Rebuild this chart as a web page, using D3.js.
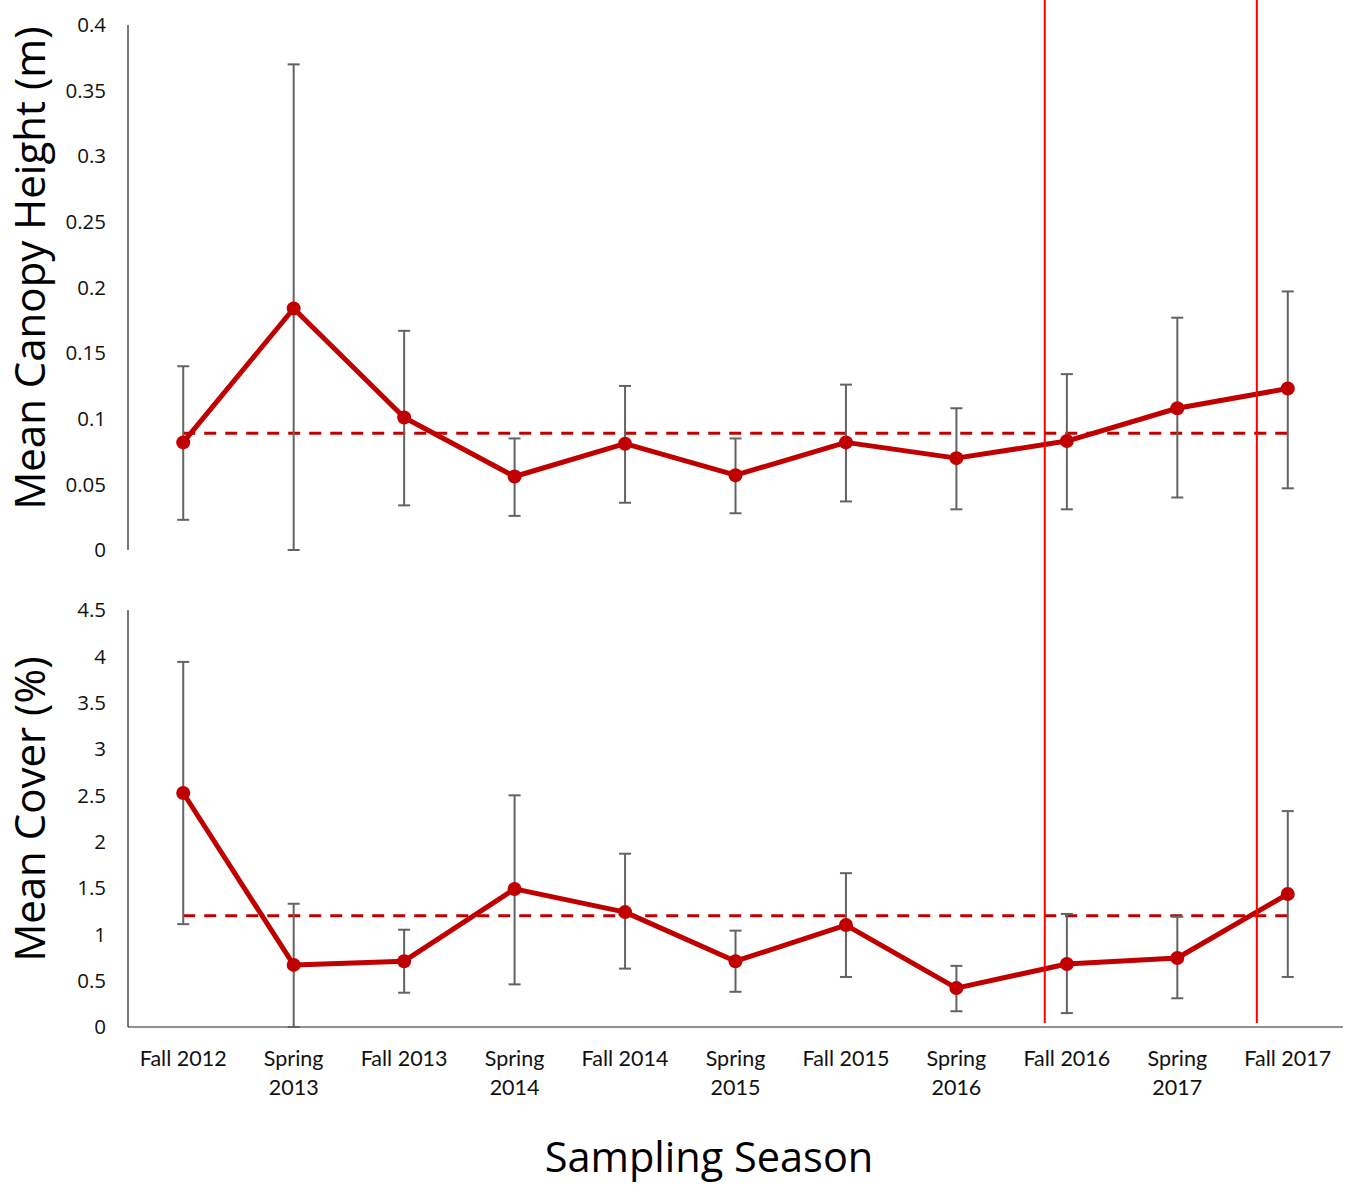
<!DOCTYPE html>
<html lang="en">
<head>
    <meta charset="UTF-8">
    <title>Canopy Height and Cover</title>
    <script src="https://cdn.jsdelivr.net/npm/d3@7"></script>
    <style>
        body { margin: 0; background: #fff; }
        .tick-label { font-family: "Open Sans", sans-serif; font-size: 20.5px; fill: #111; }
        .season { font-family: Lato, "Open Sans", sans-serif; font-size: 21.5px; fill: #111; }
        .title { font-family: "Open Sans", sans-serif; font-size: 42px; fill: #000; }
    </style>
</head>
<body>
    <svg width="1345" height="1189"></svg>

    <script>
        // seasons along the x axis (label lines)
        var seasons = [
            ["Fall 2012"], ["Spring", "2013"], ["Fall 2013"], ["Spring", "2014"],
            ["Fall 2014"], ["Spring", "2015"], ["Fall 2015"], ["Spring", "2016"],
            ["Fall 2016"], ["Spring", "2017"], ["Fall 2017"]
        ];

        // mean canopy height (m) with error bar ends
        var heightMean = [0.082, 0.184, 0.101, 0.056, 0.081, 0.057, 0.082, 0.070, 0.083, 0.108, 0.123];
        var heightHigh = [0.140, 0.370, 0.167, 0.085, 0.125, 0.085, 0.126, 0.108, 0.134, 0.177, 0.197];
        var heightLow  = [0.023, 0.000, 0.034, 0.026, 0.036, 0.028, 0.037, 0.031, 0.031, 0.040, 0.047];
        var heightRef = 0.089;
        var heightTicks = [0, 0.05, 0.1, 0.15, 0.2, 0.25, 0.3, 0.35, 0.4];

        // mean cover (%) with error bar ends
        var coverMean = [2.525, 0.67, 0.71, 1.49, 1.24, 0.71, 1.10, 0.42, 0.68, 0.745, 1.435];
        var coverHigh = [3.94, 1.33, 1.05, 2.50, 1.87, 1.04, 1.66, 0.66, 1.22, 1.19, 2.33];
        var coverLow  = [1.11, 0.00, 0.37, 0.46, 0.63, 0.38, 0.54, 0.17, 0.15, 0.31, 0.54];
        var coverRef = 1.20;
        var coverTicks = [0, 0.5, 1, 1.5, 2, 2.5, 3, 3.5, 4, 4.5];

        // vertical marker lines, in season-index units
        var markers = [7.8, 9.72];

        var svg = d3.select("svg");
        var red = "#c00000";
        var left = 128, right = 1343;

        var x = d3.scaleBand()
            .domain(d3.range(seasons.length))
            .range([left, right]);
        var xc = function(i) { return x(i) + x.bandwidth() / 2; };
        var xIndex = d3.scaleLinear()
            .domain([0, seasons.length - 1])
            .range([xc(0), xc(seasons.length - 1)]);

        function panel(opts) {
            var y = d3.scaleLinear().domain(opts.domain).range([opts.bottom, opts.top]);
            var g = svg.append("g");

            // y axis line
            g.append("line")
                .attr("x1", left).attr("x2", left)
                .attr("y1", y(opts.domain[1])).attr("y2", y(0))
                .attr("stroke", "#222").attr("stroke-width", 1.2);

            if (opts.baseline) {
                g.append("line")
                    .attr("x1", left).attr("x2", right)
                    .attr("y1", y(0)).attr("y2", y(0))
                    .attr("stroke", "#222").attr("stroke-width", 1.2);
            }

            g.selectAll(".tick-label")
                .data(opts.ticks)
                .enter().append("text")
                .attr("class", "tick-label")
                .attr("x", 106)
                .attr("y", function(d) { return y(d); })
                .attr("dy", "0.35em")
                .attr("text-anchor", "end")
                .text(function(d) { return d; });

            // reference dashed line
            g.append("line")
                .attr("x1", xc(0)).attr("x2", xc(seasons.length - 1))
                .attr("y1", y(opts.ref)).attr("y2", y(opts.ref))
                .attr("stroke", red).attr("stroke-width", 3)
                .attr("stroke-dasharray", "12,9");

            // error bars
            var bars = g.selectAll(".err")
                .data(d3.range(seasons.length))
                .enter().append("g")
                .attr("class", "err")
                .attr("stroke", "#636363")
                .attr("stroke-width", 2);
            bars.append("line")
                .attr("x1", xc).attr("x2", xc)
                .attr("y1", function(i) { return y(opts.high[i]); })
                .attr("y2", function(i) { return y(opts.low[i]); });
            bars.append("line")
                .attr("x1", function(i) { return xc(i) - 6; })
                .attr("x2", function(i) { return xc(i) + 6; })
                .attr("y1", function(i) { return y(opts.high[i]); })
                .attr("y2", function(i) { return y(opts.high[i]); });
            bars.append("line")
                .attr("x1", function(i) { return xc(i) - 6; })
                .attr("x2", function(i) { return xc(i) + 6; })
                .attr("y1", function(i) { return y(opts.low[i]); })
                .attr("y2", function(i) { return y(opts.low[i]); });

            // mean line and markers
            var line = d3.line()
                .x(function(d, i) { return xc(i); })
                .y(function(d) { return y(d); });
            g.append("path")
                .datum(opts.mean)
                .attr("d", line)
                .attr("fill", "none")
                .attr("stroke", red)
                .attr("stroke-width", 5)
                .attr("stroke-linejoin", "round");
            g.selectAll(".pt")
                .data(opts.mean)
                .enter().append("circle")
                .attr("class", "pt")
                .attr("cx", function(d, i) { return xc(i); })
                .attr("cy", function(d) { return y(d); })
                .attr("r", 7)
                .attr("fill", red);

            // axis title
            g.append("text")
                .attr("class", "title")
                .attr("transform", "translate(" + opts.titleX + "," + opts.titleY + ") rotate(-90)")
                .attr("text-anchor", "middle")
                .text(opts.title);

            return y;
        }

        panel({
            domain: [0, 0.4], top: 25, bottom: 550,
            mean: heightMean, high: heightHigh, low: heightLow, ref: heightRef,
            ticks: heightTicks, baseline: false,
            title: "Mean Canopy Height (m)", titleX: 45, titleY: 268
        });

        var yCover = panel({
            domain: [0, 4.5], top: 610, bottom: 1027,
            mean: coverMean, high: coverHigh, low: coverLow, ref: coverRef,
            ticks: coverTicks, baseline: true,
            title: "Mean Cover (%)", titleX: 45, titleY: 809
        });

        // season labels
        var labels = svg.append("g")
            .selectAll(".season")
            .data(seasons)
            .enter().append("text")
            .attr("class", "season")
            .attr("text-anchor", "middle")
            .attr("x", function(d, i) { return xc(i); })
            .attr("y", 1066);
        labels.selectAll("tspan")
            .data(function(d) { return d; })
            .enter().append("tspan")
            .attr("x", function() { return d3.select(this.parentNode).attr("x"); })
            .attr("dy", function(d, j) { return j === 0 ? 0 : 29; })
            .text(function(d) { return d; });

        svg.append("text")
            .attr("class", "title")
            .style("font-size", "41.5px")
            .attr("x", 709)
            .attr("y", 1172)
            .attr("text-anchor", "middle")
            .text("Sampling Season");

        // vertical red marker lines
        svg.selectAll(".marker")
            .data(markers)
            .enter().append("line")
            .attr("class", "marker")
            .attr("x1", function(d) { return xIndex(d); })
            .attr("x2", function(d) { return xIndex(d); })
            .attr("y1", 0)
            .attr("y2", yCover(0) - 4)
            .attr("stroke", "#ff0000")
            .attr("stroke-width", 2);
    </script>
</body>
</html>
